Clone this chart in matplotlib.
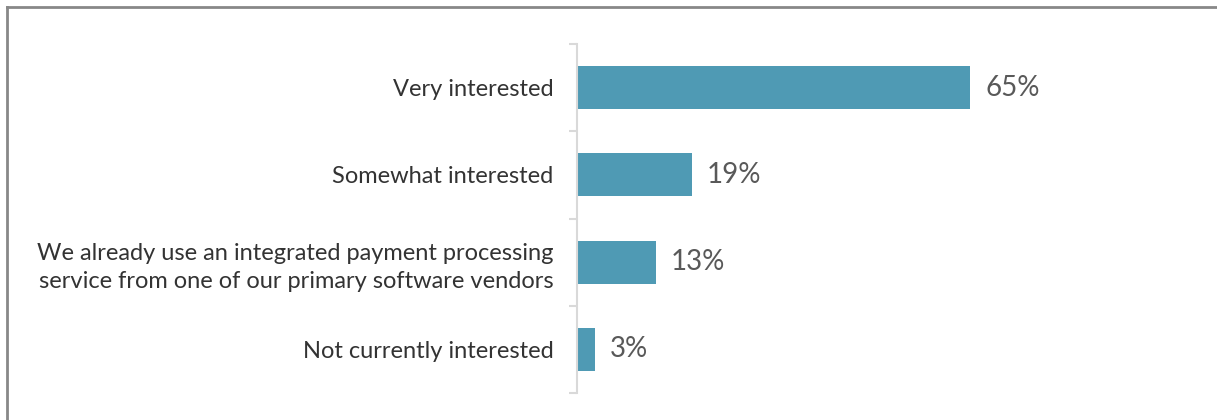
import matplotlib.pyplot as plt
from matplotlib.lines import Line2D

categories = [
    "Very interested",
    "Somewhat interested",
    "We already use an integrated payment processing\nservice from one of our primary software vendors",
    "Not currently interested",
]
values = [65, 19, 13, 3]
value_labels = ["65%", "19%", "13%", "3%"]

bar_color = "#4F9AB4"
text_color = "#333333"
label_color = "#595959"

plt.rcParams['font.family'] = ['Lato', 'DejaVu Sans']

fig = plt.figure(figsize=(12.17, 4.2), dpi=100)
W, H = 1217, 420
# axes box in pixels: left 577, right 1212, top 44, bottom 393
ax = fig.add_axes([577 / W, 1 - 393 / H, (1212 - 577) / W, (393 - 44) / H])

y = list(range(len(categories)))
ax.barh(y, values, height=0.49, color=bar_color)
ax.set_ylim(len(categories) - 0.5, -0.5)
ax.set_xlim(0, 105)

for yi, v, lab in zip(y, values, value_labels):
    ax.annotate(lab, (v, yi), xytext=(15, 0), textcoords="offset pixels",
                va="center", ha="left", fontsize=20, color=label_color)

ax.set_yticks(y)
ax.set_yticklabels(categories, fontsize=17, color=text_color, linespacing=1.4)
ax.tick_params(axis="y", length=0, pad=17)
ax.set_xticks([])

# tick marks between categories
ax.set_yticks([i - 0.5 for i in range(len(categories) + 1)], minor=True)
ax.tick_params(axis="y", which="minor", length=6, width=1.5, color="#D9D9D9")

for s in ["top", "right", "bottom"]:
    ax.spines[s].set_visible(False)
ax.spines["left"].set_color("#D9D9D9")
ax.spines["left"].set_linewidth(1.5)

# frame on top and left edges
fig.add_artist(Line2D([6.5 / W, 6.5 / W], [0, 1 - 6.5 / H], color="#888888", lw=2,
                      transform=fig.transFigure))
fig.add_artist(Line2D([6.5 / W, 1], [1 - 6.5 / H, 1 - 6.5 / H], color="#888888", lw=2,
                      transform=fig.transFigure))

fig.savefig("out.png", dpi=100)
